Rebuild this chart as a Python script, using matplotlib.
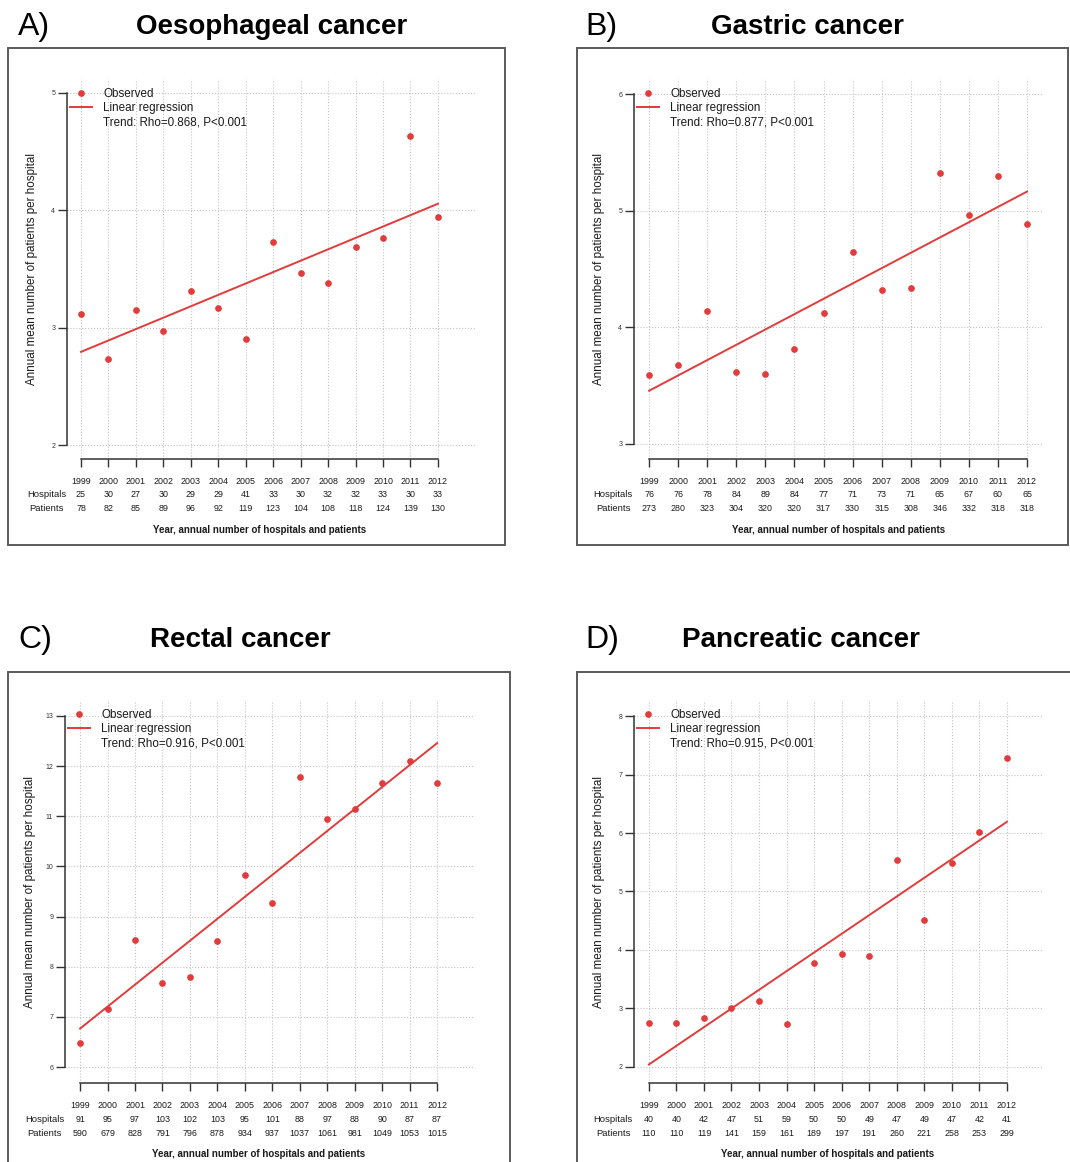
import matplotlib
matplotlib.use("Agg")
import matplotlib.pyplot as plt
from matplotlib.lines import Line2D
from matplotlib.patches import Rectangle
import numpy as np

plt.rcParams['font.family'] = ['Liberation Sans', 'DejaVu Sans']

# ---- data ----
years = [1999, 2000, 2001, 2002, 2003, 2004, 2005, 2006, 2007, 2008, 2009, 2010, 2011, 2012]

panel_letters = ['A)', 'B)', 'C)', 'D)']
panel_titles = ['Oesophageal cancer', 'Gastric cancer', 'Rectal cancer', 'Pancreatic cancer']
trend_texts = ['Trend: Rho=0.868, P<0.001', 'Trend: Rho=0.877, P<0.001',
               'Trend: Rho=0.916, P<0.001', 'Trend: Rho=0.915, P<0.001']

oeso_hospitals = [25, 30, 27, 30, 29, 29, 41, 33, 30, 32, 32, 33, 30, 33]
oeso_patients = [78, 82, 85, 89, 96, 92, 119, 123, 104, 108, 118, 124, 139, 130]
oeso_mean = [3.12, 2.73, 3.15, 2.97, 3.31, 3.17, 2.90, 3.73, 3.47, 3.38, 3.69, 3.76, 4.63, 3.94]

gastric_hospitals = [76, 76, 78, 84, 89, 84, 77, 71, 73, 71, 65, 67, 60, 65]
gastric_patients = [273, 280, 323, 304, 320, 320, 317, 330, 315, 308, 346, 332, 318, 318]
gastric_mean = [3.59, 3.68, 4.14, 3.62, 3.60, 3.81, 4.12, 4.65, 4.32, 4.34, 5.32, 4.96, 5.30, 4.89]

rectal_hospitals = [91, 95, 97, 103, 102, 103, 95, 101, 88, 97, 88, 90, 87, 87]
rectal_patients = [590, 679, 828, 791, 796, 878, 934, 937, 1037, 1061, 981, 1049, 1053, 1015]
rectal_mean = [6.48, 7.15, 8.54, 7.68, 7.80, 8.52, 9.83, 9.28, 11.78, 10.94, 11.15, 11.66, 12.10, 11.67]

pancreas_hospitals = [40, 40, 42, 47, 51, 59, 50, 50, 49, 47, 49, 47, 42, 41]
pancreas_patients = [110, 110, 119, 141, 159, 161, 189, 197, 191, 260, 221, 258, 253, 299]
pancreas_mean = [2.75, 2.75, 2.83, 3.00, 3.12, 2.73, 3.78, 3.94, 3.90, 5.53, 4.51, 5.49, 6.02, 7.29]

yticks_list = [[2, 3, 4, 5], [3, 4, 5, 6], [6, 7, 8, 9, 10, 11, 12, 13], [2, 3, 4, 5, 6, 7, 8]]

hospitals_all = [oeso_hospitals, gastric_hospitals, rectal_hospitals, pancreas_hospitals]
patients_all = [oeso_patients, gastric_patients, rectal_patients, pancreas_patients]
means_all = [oeso_mean, gastric_mean, rectal_mean, pancreas_mean]

# ---- layout (pixels) ----
W, H = 1070, 1162
RED = '#e23b3b'
TXT = '#1a1a1a'

# frame box, axes box (left, right, top, bottom), xlim, ylim, title centre x, title y, letter x
layout = [
    dict(frame=(8, 48, 505, 545), box=(67, 475, 79, 459), xlim=(1998.49, 2013.35), ylim=(1.881, 5.119),
         tx=272, ty=25, lx=18),
    dict(frame=(577, 48, 1068, 545), box=(634, 1043, 79, 459), xlim=(1998.48, 2012.55), ylim=(2.871, 6.129),
         tx=807, ty=25, lx=585),
    dict(frame=(8, 672, 510, 1170), box=(65, 475, 700, 1083), xlim=(1998.45, 2013.38), ylim=(5.681, 13.319),
         tx=240, ty=638, lx=18),
    dict(frame=(577, 672, 1075, 1170), box=(634, 1043, 700, 1083), xlim=(1998.46, 2013.31), ylim=(1.726, 8.274),
         tx=801, ty=638, lx=585),
]


def fx(px):
    return px / W


def fy(py):
    return 1 - py / H


fig = plt.figure(figsize=(W / 100, H / 100), dpi=100)

for i, lay in enumerate(layout):
    x0, y0, x1, y1 = lay['frame']
    fig.add_artist(Rectangle((fx(x0), fy(y1)), (x1 - x0) / W, (y1 - y0) / H,
                             transform=fig.transFigure, fill=False, ec='#5a5a5a', lw=1.4))
    fig.text(fx(lay['lx']), fy(lay['ty'] + 2), panel_letters[i], fontsize=23, ha='left', va='center')
    fig.text(fx(lay['tx']), fy(lay['ty'] + 2), panel_titles[i], fontsize=20, weight='bold',
             ha='center', va='center')

    l, r, t, b = lay['box']
    aw, ah = r - l, b - t
    ax = fig.add_axes([fx(l), fy(b), aw / W, ah / H])
    ax.set_xlim(*lay['xlim'])
    ax.set_ylim(*lay['ylim'])

    yt = yticks_list[i]
    ax.set_xticks(years)
    ax.set_yticks(yt)
    ax.grid(True, ls=':', color='#c4c4c4', lw=0.8)
    ax.set_axisbelow(True)
    for s in ['top', 'right']:
        ax.spines[s].set_visible(False)
    ax.spines['left'].set_bounds(yt[0], yt[-1])
    ax.spines['bottom'].set_bounds(years[0], years[-1])
    for s in ['left', 'bottom']:
        ax.spines[s].set_color('#333333')
        ax.spines[s].set_linewidth(1.1)
    ax.tick_params(axis='y', length=6.5, width=1, color='#333333', labelsize=5, pad=2,
                   labelcolor='#333333')
    ax.tick_params(axis='x', length=5.8, width=1, color='#333333', labelbottom=False)

    mean = means_all[i]
    ax.plot(years, mean, 'o', ls='none', ms=3.8, color=RED, zorder=3)
    coef = np.polyfit(years, mean, 1)
    ends = np.array([years[0], years[-1]])
    ax.plot(ends, np.polyval(coef, ends), color=RED, lw=1.4, zorder=2)

    handles = [Line2D([], [], marker='o', ls='none', ms=3.8, color=RED),
               Line2D([], [], color=RED, lw=1.4),
               Line2D([], [], ls='none')]
    labels = ['Observed', 'Linear regression', trend_texts[i]]
    ax.legend(handles, labels, loc='upper left', frameon=False, fontsize=8.4,
              bbox_to_anchor=(fx(l + 3), fy(t + 9)), bbox_transform=fig.transFigure,
              borderpad=0, borderaxespad=0, handlelength=1.9, handletextpad=0.95,
              labelspacing=0.2, labelcolor=TXT)

    ax.text(-35 / aw, 0.5, 'Annual mean number of patients per hospital', rotation=90,
            ha='center', va='center', fontsize=8.4, color=TXT, transform=ax.transAxes)

    # table under the x axis
    hosp = hospitals_all[i]
    pat = patients_all[i]
    for k, yr in enumerate(years):
        ax.annotate(str(yr), xy=(yr, 0), xycoords=('data', 'axes fraction'),
                    xytext=(0, -23), textcoords='offset pixels', ha='center', va='center',
                    fontsize=6.4, color=TXT, annotation_clip=False)
        ax.annotate(str(hosp[k]), xy=(yr, 0), xycoords=('data', 'axes fraction'),
                    xytext=(0, -36), textcoords='offset pixels', ha='center', va='center',
                    fontsize=6.4, color=TXT, annotation_clip=False)
        ax.annotate(str(pat[k]), xy=(yr, 0), xycoords=('data', 'axes fraction'),
                    xytext=(0, -50), textcoords='offset pixels', ha='center', va='center',
                    fontsize=6.4, color=TXT, annotation_clip=False)
    ax.annotate('Hospitals', xy=(0, 0), xycoords='axes fraction', xytext=(-1, -36),
                textcoords='offset pixels', ha='right', va='center', fontsize=6.8, color=TXT)
    ax.annotate('Patients', xy=(0, 0), xycoords='axes fraction', xytext=(-3, -50),
                textcoords='offset pixels', ha='right', va='center', fontsize=6.8, color=TXT)
    ax.annotate('Year, annual number of hospitals and patients',
                xy=((years[0] + years[-1]) / 2, 0), xycoords=('data', 'axes fraction'),
                xytext=(0, -71), textcoords='offset pixels', ha='center', va='center',
                fontsize=7.0, weight='bold', color=TXT)

fig.savefig('out.png', dpi=100)
